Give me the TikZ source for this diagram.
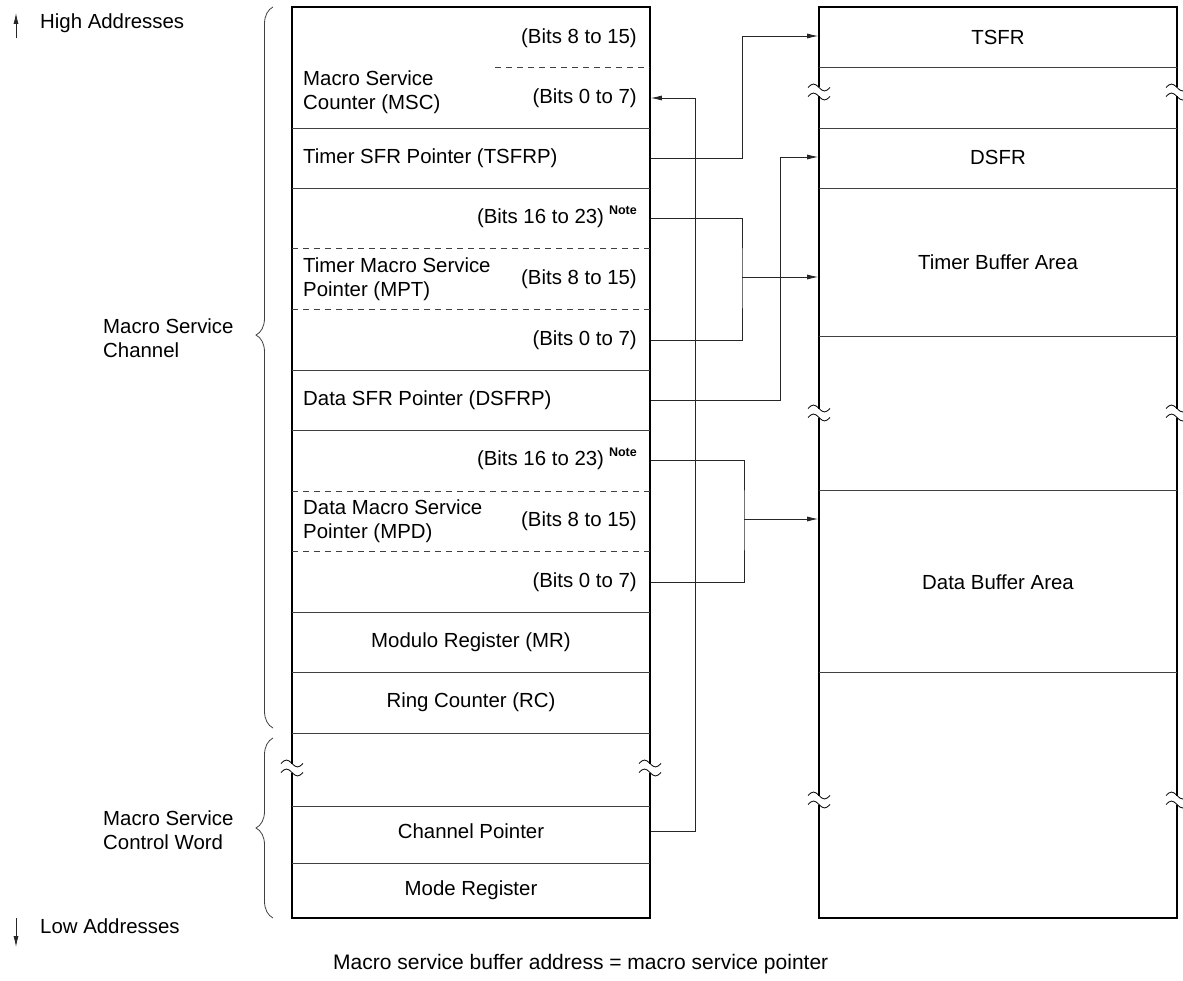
\documentclass[tikz,border=0pt]{standalone}
\usepackage{fontspec}
\setmainfont{Liberation Sans}
\usetikzlibrary{positioning,arrows.meta,calc,decorations.pathreplacing}
\newcommand{\notemark}{\hspace{5pt}\raisebox{9pt}[0pt][0pt]{\fontsize{12.5}{12.5}\selectfont\bfseries Note}}

\begin{document}
\begin{tikzpicture}[x=1pt,y=-1pt,
  frame/.style={draw, line width=1.6pt, minimum width=358pt, minimum height=911pt, inner sep=0pt},
  sep/.style={draw=black!75, line width=0.8pt},
  link/.style={draw=black!85, line width=0.8pt},
  tip/.style={-{Latex[length=11pt,width=5pt]}},
  lbl/.style={inner sep=0pt, font=\fontsize{20.4}{24.5}\selectfont, align=left}]
\useasboundingbox (0,0) rectangle (1183,981);

% the two memory columns
\node[frame] (chan) at (471,462.5) {};
\node[frame] (buf) at (998,462.5) {};
\foreach \y in {128,188,370,430,612,672,733,806,863}
  \draw[sep] (292,\y) -- (650,\y);
\foreach \y in {248,309,491,551}
  \draw[sep, dashed, dash pattern=on 6pt off 5pt] (292,\y) -- (650,\y);
\draw[sep, dashed, dash pattern=on 6pt off 5pt] (495,67) -- (650,67);
\foreach \y in {67,128,188,336,490,672}
  \draw[sep] (819,\y) -- (1177,\y);

% break marks
\foreach \x/\y in {292/768,650/768,819/92,1177/92,819/413,1177/413,819/800,1177/800} {
  \fill[white] (\x-3,\y-4.5) rectangle (\x+3,\y+4.5);
  \draw[line width=0.8pt] (\x-11,\y-4.5) sin (\x-5.5,\y-8) cos (\x,\y-4.5) sin (\x+5.5,\y-1) cos (\x+11,\y-4.5);
  \draw[line width=0.8pt] (\x-11,\y+4.5) sin (\x-5.5,\y+1) cos (\x,\y+4.5) sin (\x+5.5,\y+8) cos (\x+11,\y+4.5);
}

% channel fields
\node[lbl, anchor=west] (msc) at (303,92) {Macro Service\\Counter (MSC)};
\node[lbl, anchor=east] (msch) at (637,38) {(Bits 8 to 15)};
\node[lbl, anchor=east] (mscl) at (637,98) {(Bits 0 to 7)};
\node[lbl, anchor=west] (tsfrp) at (303,158) {Timer SFR Pointer (TSFRP)};
\node[lbl, anchor=east] (mpth) at (637,218) {(Bits 16 to 23)\notemark};
\node[lbl, anchor=west] (mpt) at (303,279) {Timer Macro Service\\Pointer (MPT)};
\node[lbl, anchor=east] (mptm) at (637,279) {(Bits 8 to 15)};
\node[lbl, anchor=east] (mptl) at (637,340) {(Bits 0 to 7)};
\node[lbl, anchor=west] (dsfrp) at (303,400) {Data SFR Pointer (DSFRP)};
\node[lbl, anchor=east] (mpdh) at (637,460) {(Bits 16 to 23)\notemark};
\node[lbl, anchor=west] (mpd) at (303,521) {Data Macro Service\\Pointer (MPD)};
\node[lbl, anchor=east] (mpdm) at (637,521) {(Bits 8 to 15)};
\node[lbl, anchor=east] (mpdl) at (637,582) {(Bits 0 to 7)};
\node[lbl] (mr) at (471,642) {Modulo Register (MR)};
\node[lbl] (rc) at (471,702) {Ring Counter (RC)};
\node[lbl] (cp) at (471,831) {Channel Pointer};
\node[lbl] (mode) at (471,890) {Mode Register};

% buffer side
\node[lbl] (tsfr) at (998,37) {TSFR};
\node[lbl] (dsfr) at (998,157) {DSFR};
\node[lbl] (tba) at (998,262) {Timer Buffer Area};
\node[lbl] (dba) at (998,582) {Data Buffer Area};

% left labels
\node[lbl, anchor=west] (high) at (40,23) {High Addresses};
\node[lbl, anchor=west] (low) at (40,926) {Low Addresses};
\draw[link, tip] ($(high.west)+(-24,15)$) -- ++(0,-25);
\draw[link, tip] ($(low.west)+(-24,-8)$) -- ++(0,29);
\draw[sep, decorate, decoration={brace, amplitude=17pt, aspect=0.545}] (273,728) -- (273,7);
\draw[sep, decorate, decoration={brace, amplitude=17pt, aspect=0.5}] (273,918) -- (273,738);
\node[lbl, anchor=west] (mschan) at (103,338) {Macro Service\\Channel};
\node[lbl, anchor=west] (mscw) at (103,830) {Macro Service\\Control Word};

% pointers
\coordinate (tk) at (742,36);
\coordinate (dk) at (780,157);
\coordinate (tj) at (742,277);
\coordinate (dj) at (744,519);
\draw[link, tip] (tsfrp -| chan.east) -| (tk) -- (tk -| buf.west);
\draw[link, tip] (dsfrp -| chan.east) -| (dk) -- (dk -| buf.west);
\draw[link] (mpth -| chan.east) -| (tj) |- (mptl -| chan.east);
\draw[link, tip] (tj) -- (tj -| buf.west);
\draw[link] (mpdh -| chan.east) -| (dj) |- (mpdl -| chan.east);
\draw[link, tip] (dj) -- (dj -| buf.west);
\draw[link, tip] (cp -| chan.east) -| ($(mscl -| chan.east)+(45,0)$) -- (mscl -| chan.east);

\node[lbl, anchor=west, font=\fontsize{21}{25}\selectfont] (foot) at (333,964) {Macro service buffer address = macro service pointer};
\end{tikzpicture}
\end{document}
